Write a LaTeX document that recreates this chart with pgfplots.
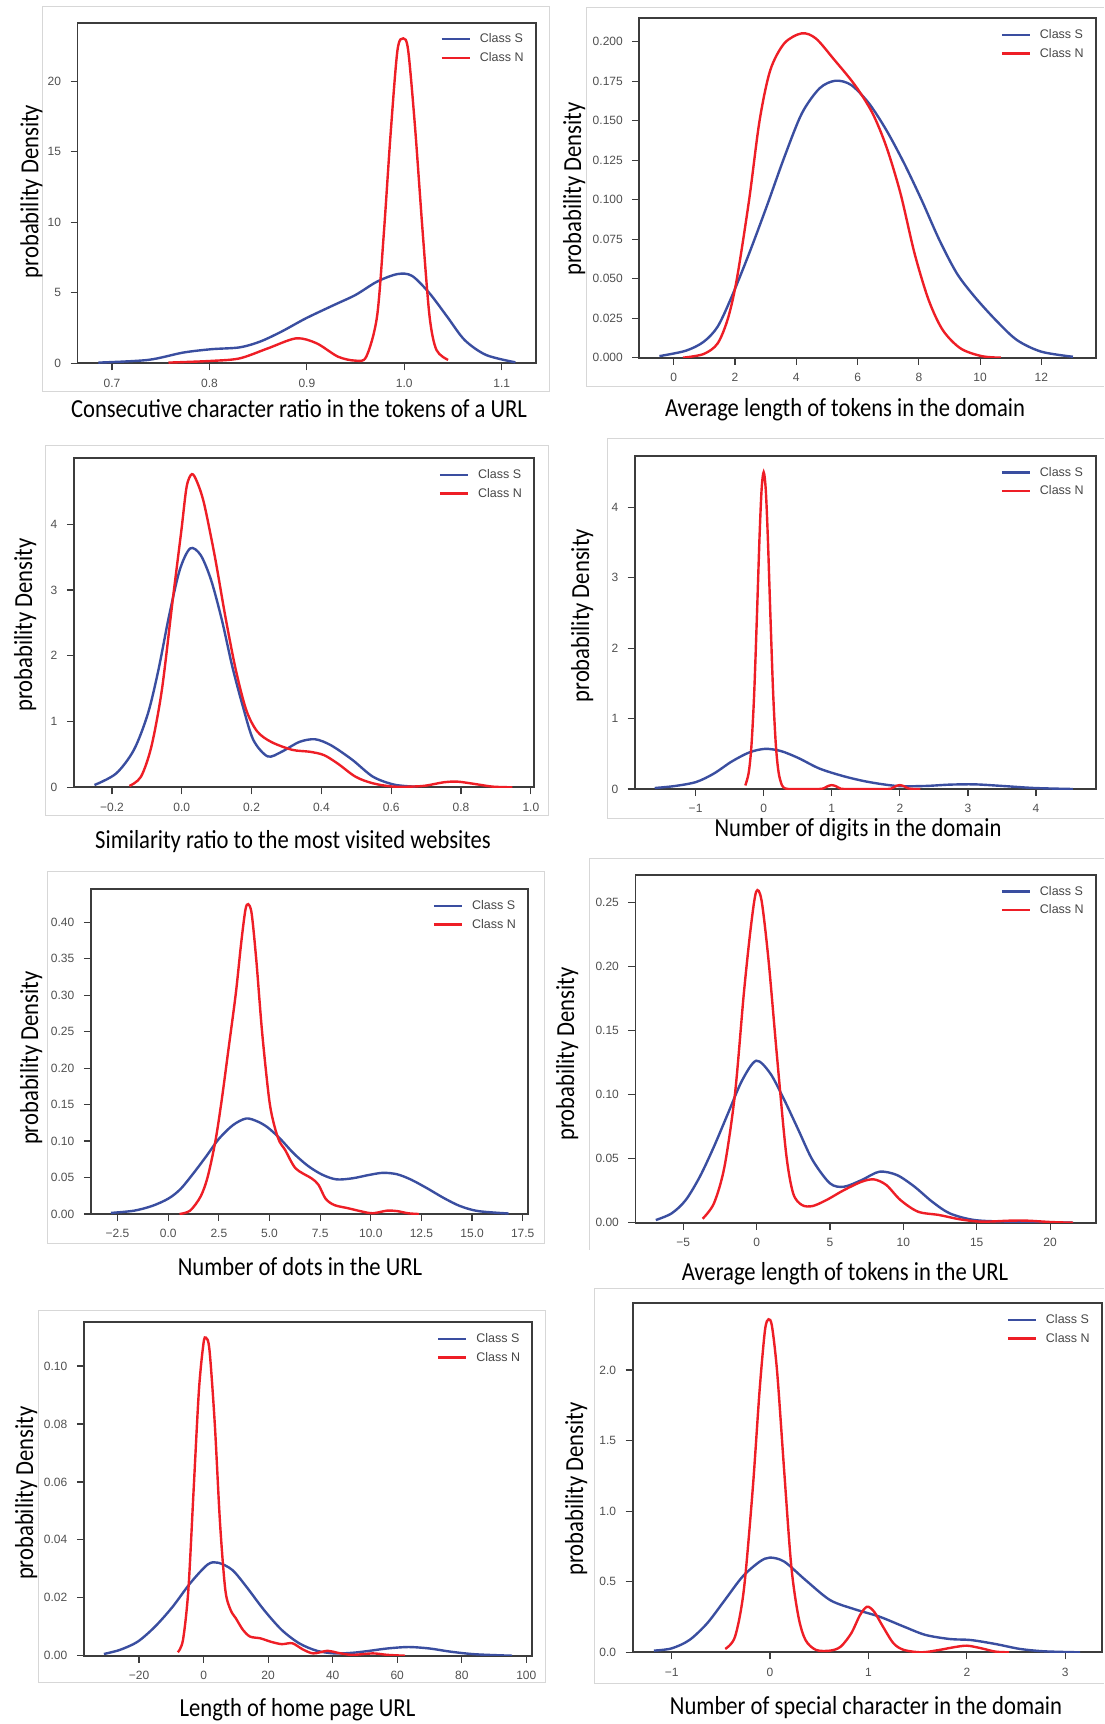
\documentclass[border=0pt]{standalone}
\usepackage{pgfplots}
\pgfplotsset{compat=1.18}
\usepackage{fontspec}
\setmainfont{Liberation Sans}
\newfontfamily\lblfont[FakeStretch=0.87]{Carlito}

\definecolor{sblue}{RGB}{58,78,160}
\definecolor{nred}{RGB}{238,30,38}
\definecolor{framegray}{RGB}{60,60,60}
\definecolor{tickgray}{RGB}{80,80,80}
\definecolor{leggray}{RGB}{70,70,70}
\definecolor{panelgray}{RGB}{215,215,215}

\pgfplotsset{
  kde/.style={
    scale only axis, anchor=north west, ymin=0,
    axis line style={line width=1.8pt, draw=framegray},
    tick align=outside, tick pos=left,
    major tick length=7pt,
    major tick style={line width=1.2pt, draw=framegray},
    tick label style={font=\fontsize{12}{13}\selectfont, text=tickgray},
    xticklabel style={yshift=-5pt},
    yticklabel style={xshift=-6pt},
    legend image code/.code={\draw[##1] (0pt,0pt) -- (28pt,0pt);},
    legend style={draw=none, fill=none, at={(1,1)}, anchor=north east,
      xshift=-11pt, yshift=-10pt, inner sep=0pt, row sep=6pt,
      font=\fontsize{12.5}{14}\selectfont, text=leggray,
      nodes={inner sep=1pt},
      /tikz/every odd column/.append style={column sep=8pt}},
    legend cell align=left,
  },
  S/.style={smooth, tension=0.5, no markers, line width=2.4pt, color=sblue},
  N/.style={smooth, tension=0.5, no markers, line width=2.4pt, color=nred},
}
\tikzset{lbl/.style={font=\lblfont\fontsize{26}{30}\selectfont, inner sep=0pt}}

\begin{document}
\begin{tikzpicture}
\useasboundingbox (0pt,0pt) rectangle (1104pt,-1724pt);

% light panel frames
\draw[panelgray, line width=1pt] (42.2pt,-6.7pt) rectangle (549pt,-391.7pt);
\draw[panelgray, line width=1pt] (1104pt,-7.3pt) -- (586.5pt,-7.3pt) -- (586.5pt,-386.7pt) -- (1104pt,-386.7pt);
\draw[panelgray, line width=1pt] (45.8pt,-445pt) rectangle (548.5pt,-815pt);
\draw[panelgray, line width=1pt] (1104pt,-438.3pt) -- (607.6pt,-438.3pt) -- (607.6pt,-818.3pt) -- (1104pt,-818.3pt);
\draw[panelgray, line width=1pt] (1104pt,-858pt) -- (589pt,-858pt) -- (589pt,-1250pt);
\draw[panelgray, line width=1pt] (47.5pt,-871.7pt) rectangle (544pt,-1243.3pt);
\draw[panelgray, line width=1pt] (1104pt,-1288pt) -- (594pt,-1288pt) -- (594pt,-1683.3pt) -- (1104pt,-1683.3pt);
\draw[panelgray, line width=1pt] (38pt,-1310.7pt) rectangle (545pt,-1682.7pt);

% 1
\begin{axis}[kde, at={(77.5pt,-22.7pt)}, width=458.3pt, height=340.6pt,
  xmin=0.6646, xmax=1.135, ymax=24.16,
  xtick={0.7,0.8,0.9,1.0,1.1}, xticklabels={0.7,0.8,0.9,1.0,1.1},
  ytick={0,5,10,15,20}, yticklabels={0,5,10,15,20}]
\addplot[S] coordinates {(0.686,0.05)(0.737,0.24)(0.773,0.76)(0.802,1.0)(0.831,1.13)(0.852,1.54)(0.874,2.25)(0.899,3.19)(0.928,4.14)(0.950,4.85)(0.972,5.79)(0.993,6.33)(1.008,6.2)(1.026,4.96)(1.044,3.31)(1.062,1.65)(1.084,0.59)(1.114,0.07)};
\addplot[N] coordinates {(0.758,0.05)(0.802,0.17)(0.831,0.35)(0.86,1.06)(0.889,1.77)(0.91,1.42)(0.932,0.47)(0.95,0.19)(0.961,0.47)(0.972,3.3)(0.979,9.2)(0.986,16.3)(0.993,22.2)(0.999,23.05)(1.004,22.2)(1.011,16.8)(1.019,9.2)(1.026,3.3)(1.033,0.95)(1.045,0.24)};
\legend{Class S,Class N}
\end{axis}

% 2
\begin{axis}[kde, at={(639.3pt,-18.3pt)}, width=456.6pt, height=339.4pt,
  xmin=-1.126, xmax=13.78, ymax=0.2148,
  xtick={0,2,4,6,8,10,12}, xticklabels={0,2,4,6,8,10,12},
  ytick={0,0.025,0.05,0.075,0.1,0.125,0.15,0.175,0.2},
  yticklabels={0.000,0.025,0.050,0.075,0.100,0.125,0.150,0.175,0.200}]
\addplot[S] coordinates {(-0.47,0.001)(0.39,0.0044)(0.97,0.010)(1.43,0.0196)(1.89,0.0386)(2.46,0.066)(3.03,0.0956)(3.61,0.127)(4.18,0.1546)(4.76,0.1705)(5.28,0.1753)(5.79,0.1726)(6.37,0.161)(6.94,0.144)(7.52,0.123)(8.09,0.0998)(8.67,0.0745)(9.24,0.0534)(9.82,0.0386)(10.51,0.0238)(11.2,0.0112)(12.0,0.0038)(13.03,0.0006)};
\addplot[N] coordinates {(0.30,0)(0.97,0.0023)(1.43,0.009)(1.77,0.025)(2.06,0.050)(2.46,0.100)(2.80,0.150)(3.15,0.182)(3.61,0.199)(4.18,0.2053)(4.64,0.202)(5.22,0.189)(5.91,0.1726)(6.48,0.155)(6.94,0.1335)(7.40,0.104)(7.86,0.066)(8.32,0.0365)(8.78,0.0175)(9.36,0.0059)(10.05,0.001)(10.68,0)};
\legend{Class S,Class N}
\end{axis}

% 3
\begin{axis}[kde, at={(73.9pt,-458.3pt)}, width=460.1pt, height=329pt,
  xmin=-0.309, xmax=1.009, ymax=5.0,
  xtick={-0.2,0,0.2,0.4,0.6,0.8,1.0}, xticklabels={−0.2,0.0,0.2,0.4,0.6,0.8,1.0},
  ytick={0,1,2,3,4}, yticklabels={0,1,2,3,4}]
\addplot[S] coordinates {(-0.25,0.035)(-0.188,0.21)(-0.137,0.57)(-0.097,1.12)(-0.067,1.78)(-0.037,2.59)(-0.006,3.30)(0.024,3.63)(0.054,3.53)(0.084,3.15)(0.115,2.54)(0.145,1.83)(0.175,1.23)(0.205,0.72)(0.246,0.47)(0.286,0.54)(0.337,0.69)(0.382,0.73)(0.427,0.64)(0.488,0.42)(0.548,0.16)(0.609,0.04)(0.669,0.01)};
\addplot[N] coordinates {(-0.150,0.02)(-0.117,0.16)(-0.087,0.62)(-0.057,1.48)(-0.027,2.80)(-0.001,3.91)(0.014,4.57)(0.029,4.76)(0.044,4.64)(0.064,4.31)(0.095,3.50)(0.125,2.59)(0.155,1.78)(0.185,1.17)(0.216,0.85)(0.256,0.69)(0.316,0.57)(0.367,0.54)(0.407,0.49)(0.447,0.36)(0.498,0.16)(0.548,0.06)(0.609,0.01)(0.690,0.02)(0.75,0.076)(0.79,0.086)(0.84,0.05)(0.891,0.01)(0.947,0)};
\legend{Class S,Class N}
\end{axis}

% 4
\begin{axis}[kde, at={(634.7pt,-456pt)}, width=461.2pt, height=333pt,
  xmin=-1.894, xmax=4.879, ymax=4.729,
  xtick={-1,0,1,2,3,4}, xticklabels={−1,0,1,2,3,4},
  ytick={0,1,2,3,4}, yticklabels={0,1,2,3,4}]
\addplot[S] coordinates {(-1.6,0.014)(-1.30,0.043)(-0.99,0.10)(-0.73,0.22)(-0.47,0.39)(-0.21,0.52)(0.02,0.57)(0.25,0.54)(0.51,0.44)(0.82,0.29)(1.18,0.18)(1.54,0.10)(1.96,0.043)(2.37,0.043)(2.73,0.062)(3.10,0.066)(3.51,0.043)(3.98,0.014)(4.54,0)};
\addplot[N] coordinates {(-0.27,0.05)(-0.22,0.23)(-0.18,0.61)(-0.14,1.34)(-0.10,2.43)(-0.06,3.60)(-0.03,4.26)(0,4.5)(0.03,4.26)(0.06,3.60)(0.10,2.43)(0.14,1.34)(0.18,0.61)(0.22,0.23)(0.27,0.05)(0.32,0.008)(0.40,0)(0.80,0)(0.88,0.01)(0.94,0.04)(1.0,0.055)(1.06,0.04)(1.12,0.01)(1.2,0)(1.8,0)(1.88,0.01)(1.94,0.04)(2.0,0.055)(2.06,0.04)(2.12,0.01)(2.2,0)(2.3,0)};
\legend{Class S,Class N}
\end{axis}

% 5
\begin{axis}[kde, at={(90.8pt,-889.3pt)}, width=437.2pt, height=324.7pt,
  xmin=-3.82, xmax=17.76, ymax=0.4453,
  xtick={-2.5,0,2.5,5,7.5,10,12.5,15,17.5}, xticklabels={−2.5,0.0,2.5,5.0,7.5,10.0,12.5,15.0,17.5},
  ytick={0,0.05,0.1,0.15,0.2,0.25,0.3,0.35,0.4},
  yticklabels={0.00,0.05,0.10,0.15,0.20,0.25,0.30,0.35,0.40}]
\addplot[S] coordinates {(-2.83,0.0015)(-1.7,0.0045)(-0.8,0.011)(0.0,0.021)(0.6,0.034)(1.25,0.056)(1.9,0.08)(2.5,0.103)(3.2,0.122)(3.85,0.131)(4.4,0.127)(4.9,0.119)(5.5,0.104)(6.2,0.083)(6.9,0.066)(7.6,0.054)(8.3,0.0475)(9.1,0.049)(9.9,0.0535)(10.6,0.0565)(11.3,0.0545)(12.0,0.047)(12.8,0.035)(13.6,0.022)(14.4,0.011)(15.3,0.004)(16.8,0.0007)};
\addplot[N] coordinates {(0.56,0)(1.08,0.0046)(1.6,0.024)(1.95,0.051)(2.33,0.10)(2.64,0.156)(2.99,0.229)(3.34,0.303)(3.6,0.371)(3.81,0.417)(3.95,0.425)(4.12,0.412)(4.35,0.348)(4.64,0.248)(4.99,0.156)(5.25,0.12)(5.5,0.099)(5.77,0.088)(6.29,0.0626)(7.07,0.049)(7.42,0.04)(7.77,0.021)(8.2,0.0123)(8.9,0.0078)(9.6,0.0032)(10.1,0.001)(10.8,0.0046)(11.3,0.004)(11.85,0.001)(12.37,0)};
\legend{Class S,Class N}
\end{axis}

% 6
\begin{axis}[kde, at={(635.4pt,-875pt)}, width=460.5pt, height=347.7pt,
  xmin=-8.26, xmax=23.12, ymax=0.2713,
  xtick={-5,0,5,10,15,20}, xticklabels={−5,0,5,10,15,20},
  ytick={0,0.05,0.1,0.15,0.2,0.25}, yticklabels={0.00,0.05,0.10,0.15,0.20,0.25}]
\addplot[S] coordinates {(-6.87,0.0021)(-5.79,0.0073)(-4.83,0.0177)(-3.87,0.0359)(-2.91,0.0593)(-1.95,0.0853)(-0.99,0.111)(-0.03,0.1264)(0.93,0.1165)(1.89,0.0957)(2.85,0.0723)(3.81,0.0489)(5.0,0.0307)(5.96,0.0281)(7.16,0.0333)(8.36,0.0398)(9.56,0.0372)(10.76,0.0281)(11.96,0.0164)(13.16,0.0073)(14.84,0.0021)(17.24,0.0008)(21.56,0)};
\addplot[N] coordinates {(-3.68,0.0031)(-2.91,0.0151)(-2.19,0.0437)(-1.47,0.101)(-0.87,0.179)(-0.39,0.231)(-0.03,0.2583)(0.33,0.2518)(0.81,0.205)(1.41,0.127)(2.01,0.0541)(2.49,0.0229)(3.09,0.0138)(3.81,0.013)(4.76,0.0177)(5.96,0.0255)(7.16,0.032)(8.0,0.0338)(8.84,0.0294)(9.80,0.0177)(11.0,0.0086)(12.44,0.006)(13.88,0.0026)(15.32,0.0008)(17.24,0.0016)(18.44,0.0016)(20.12,0.0005)(21.56,0)};
\legend{Class S,Class N}
\end{axis}

% 7
\begin{axis}[kde, at={(83.8pt,-1322.3pt)}, width=448.5pt, height=333.4pt,
  xmin=-37.13, xmax=101.85, ymax=0.1151,
  xtick={-20,0,20,40,60,80,100}, xticklabels={−20,0,20,40,60,80,100},
  ytick={0,0.02,0.04,0.06,0.08,0.1}, yticklabels={0.00,0.02,0.04,0.06,0.08,0.10}]
\addplot[S] coordinates {(-30.9,0.0006)(-26.0,0.002)(-20.5,0.0048)(-15.1,0.010)(-9.6,0.0169)(-4.18,0.025)(1.27,0.0315)(4.54,0.0321)(8.9,0.0296)(13.27,0.0238)(18.7,0.0158)(24.2,0.0089)(29.6,0.0043)(35.1,0.0017)(40.5,0.0008)(46.0,0.001)(51.5,0.0017)(56.9,0.0025)(63.5,0.003)(70,0.0025)(76.5,0.0014)(84.2,0.0005)(95.6,0)};
\addplot[N] coordinates {(-8.0,0.0012)(-6.4,0.0054)(-4.73,0.0227)(-3.1,0.0572)(-1.45,0.0917)(-0.04,0.1078)(0.73,0.1098)(1.82,0.1055)(3.45,0.0802)(5.09,0.0457)(6.73,0.0227)(8.36,0.0158)(10.0,0.0129)(12.2,0.0089)(14.4,0.0066)(17.6,0.006)(20.9,0.0048)(24.2,0.004)(27.5,0.0043)(30.7,0.0022)(34.0,0.0008)(38.4,0.0017)(41.6,0.001)(46.0,0.0003)(52.5,0.0008)(56.9,0.0003)(62.4,0)};
\legend{Class S,Class N}
\end{axis}

% 8
\begin{axis}[kde, at={(632.6pt,-1303.3pt)}, width=469.3pt, height=349pt,
  xmin=-1.397, xmax=3.372, ymax=2.472,
  xtick={-1,0,1,2,3}, xticklabels={−1,0,1,2,3},
  ytick={0,0.5,1,1.5,2}, yticklabels={0.0,0.5,1.0,1.5,2.0}]
\addplot[S] coordinates {(-1.18,0.012)(-1.0,0.028)(-0.82,0.087)(-0.64,0.205)(-0.46,0.37)(-0.28,0.536)(-0.106,0.642)(0.0,0.671)(0.145,0.642)(0.36,0.512)(0.61,0.37)(0.86,0.305)(1.11,0.253)(1.36,0.182)(1.58,0.123)(1.83,0.094)(2.04,0.087)(2.29,0.059)(2.54,0.024)(2.79,0.007)(3.15,0)};
\addplot[N] coordinates {(-0.456,0.024)(-0.356,0.111)(-0.267,0.44)(-0.177,1.15)(-0.106,1.86)(-0.052,2.28)(-0.016,2.359)(0.02,2.307)(0.073,1.976)(0.145,1.268)(0.216,0.607)(0.288,0.253)(0.36,0.087)(0.467,0.017)(0.61,0.012)(0.717,0.04)(0.825,0.135)(0.914,0.264)(0.986,0.323)(1.057,0.288)(1.147,0.182)(1.254,0.064)(1.36,0.017)(1.54,0)(1.72,0.017)(1.86,0.035)(2.0,0.047)(2.15,0.028)(2.29,0.005)(2.43,0)};
\legend{Class S,Class N}
\end{axis}

% axis titles
\node[lbl, anchor=base] at (299pt,-417.3pt) {Consecutive character ratio in the tokens of a URL};
\node[lbl, anchor=base] at (845pt,-416pt) {Average length of tokens in the domain};
\node[lbl, anchor=base] at (293pt,-848.3pt) {Similarity ratio to the most visited websites};
\node[lbl, anchor=base] at (858pt,-836.7pt) {Number of digits in the domain};
\node[lbl, anchor=base] at (300pt,-1275pt) {Number of dots in the URL};
\node[lbl, anchor=base] at (845pt,-1280.7pt) {Average length of tokens in the URL};
\node[lbl, anchor=base] at (297.5pt,-1716.7pt) {Length of home page URL};
\node[lbl, anchor=base] at (866pt,-1714pt) {Number of special character in the domain};

\node[lbl, rotate=90, anchor=base] at (38.3pt,-191.5pt) {probability Density};
\node[lbl, rotate=90, anchor=base] at (581pt,-189pt) {probability Density};
\node[lbl, rotate=90, anchor=base] at (32pt,-625pt) {probability Density};
\node[lbl, rotate=90, anchor=base] at (589pt,-615.7pt) {probability Density};
\node[lbl, rotate=90, anchor=base] at (38pt,-1058.3pt) {probability Density};
\node[lbl, rotate=90, anchor=base] at (574pt,-1054pt) {probability Density};
\node[lbl, rotate=90, anchor=base] at (33pt,-1493.3pt) {probability Density};
\node[lbl, rotate=90, anchor=base] at (583pt,-1489pt) {probability Density};
\end{tikzpicture}
\end{document}
